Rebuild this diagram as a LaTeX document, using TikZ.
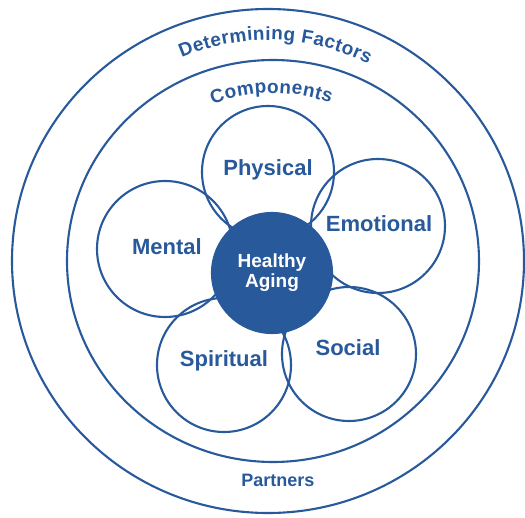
\documentclass[tikz,border=0pt]{standalone}
\usepackage{fontspec}
\setmainfont{Liberation Sans}
\usetikzlibrary{decorations.text}
\definecolor{hablue}{RGB}{40,89,155}

\begin{document}
\begin{tikzpicture}[x=1pt, y=1pt, line width=2.1pt,
    ring/.style={draw=hablue},
    petal/.style={draw=hablue},
    petallabel/.style={text=hablue, font=\bfseries\fontsize{22}{24}\selectfont},
    ringlabel/.style={text=hablue, font=\bfseries\fontsize{18}{20}\selectfont}]
        % --- 1. Parameters ---
        \def\outerRx{256}
        \def\outerRy{252}
        \def\innerRx{206}
        \def\innerRy{201}
        \def\petalR{67}
        \def\hubR{60}

        \useasboundingbox (-268,-256) rectangle (257,261);

        % --- 2. Outer rings ---
        \draw[ring] (0,0) ellipse ({\outerRx} and {\outerRy});
        \draw[ring] (5,0) ellipse ({\innerRx} and {\innerRy});

        \path[decorate, decoration={text along path, text align=fit to path,
            text={|\bfseries\fontsize{19}{20}\selectfont\color{hablue}|Determining Factors}}]
            (113:221) arc (113:63:221);
        \path[shift={(5,0)}, decorate, decoration={text along path, text align=fit to path,
            text={|\bfseries\fontsize{19}{20}\selectfont\color{hablue}|Components}}]
            (111:168) arc (111:70:168);
        \node[ringlabel] (partners) at (10,-219) {Partners};

        % --- 3. Petals ---
        \draw[petal] (0,89) circle (66);
        \draw[petal] (110,35) circle (\petalR);
        \draw[petal] (-103,12) circle (68);
        \draw[petal] (-44,-104) circle (\petalR);
        \draw[petal] (81,-93) circle (\petalR);

        \node[petallabel] (physical) at (0,91) {Physical};
        \node[petallabel] (emotional) at (111,37) {Emotional};
        \node[petallabel] (mental) at (-101,14) {Mental};
        \node[petallabel] (spiritual) at (-44,-100) {Spiritual};
        \node[petallabel] (social) at (80,-87) {Social};

        % --- 4. Hub ---
        \node[circle, draw=hablue, fill=hablue, minimum size=2*\hubR, inner sep=0pt,
            text=white, align=center, font=\bfseries\fontsize{19}{20}\selectfont]
            (hub) at (4,-12) {Healthy\\Aging};
    \end{tikzpicture}
\end{document}
